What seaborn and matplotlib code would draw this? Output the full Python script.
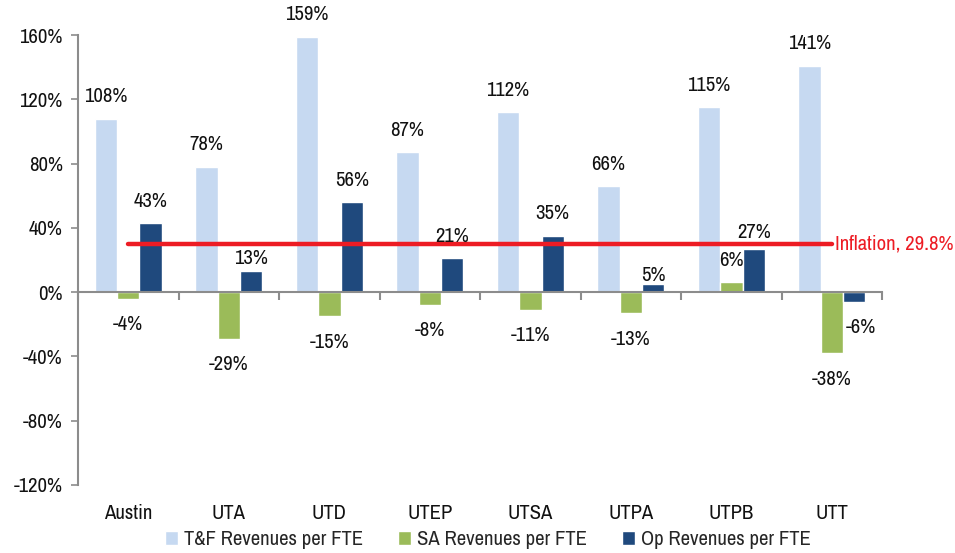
import numpy as np
import pandas as pd
import matplotlib
matplotlib.use("Agg")
import matplotlib.pyplot as plt
from matplotlib import font_manager as fm
import seaborn as sns

categories = ["Austin", "UTA", "UTD", "UTEP", "UTSA", "UTPA", "UTPB", "UTT"]
series_names = ["T&F Revenues per FTE", "SA Revenues per FTE", "Op Revenues per FTE"]
tf_values = [108, 78, 159, 87, 112, 66, 115, 141]
sa_values = [-4, -29, -15, -8, -11, -13, 6, -38]
op_values = [43, 13, 56, 21, 35, 5, 27, -6]
inflation = 29.8
y_ticks = [-120, -80, -40, 0, 40, 80, 120, 160]

colors = ["#C6D9F1", "#9BBB59", "#1F497D"]
red = "#ED1C24"
gray = "#8C8C8C"

sns.set_theme(style="white")


def pick_font(cands):
    for c in cands:
        try:
            fm.findfont(fm.FontProperties(family=c), fallback_to_default=False)
            return c
        except Exception:
            pass
    return "DejaVu Sans"


font = pick_font(["Liberation Sans Narrow", "Arial Narrow", "Archivo Narrow", "PT Sans Narrow",
                  "Roboto Condensed", "Encode Sans Condensed", "Open Sans Condensed",
                  "IBM Plex Sans Condensed", "Liberation Sans"])
plt.rcParams["font.family"] = [font, "DejaVu Sans"]

fig = plt.figure(figsize=(9.55, 5.53), dpi=100)

# choose font size so the legend label width matches the reference (~182 px)
renderer = fig.canvas.get_renderer()
probe = fig.text(0, 0, series_names[0], fontsize=10)
w10 = probe.get_window_extent(renderer=renderer).width
probe.remove()
FS = round(10 * 180 / w10, 1)
FS = min(FS, 15.5)

df = pd.DataFrame({
    "cat": categories * 3,
    "series": sum([[s] * len(categories) for s in series_names], []),
    "value": tf_values + sa_values + op_values,
})

ax = fig.add_axes([0.0817, 0.123, 0.8419, 0.8137])

sns.barplot(data=df, x="cat", y="value", hue="series", order=categories,
            hue_order=series_names, palette=colors, width=0.67, gap=0,
            saturation=1, errorbar=None, ax=ax, legend=True)

ax.set_xlim(-0.5, 7.5)
ax.set_ylim(-120, 160)
ax.set_yticks(y_ticks)
ax.set_yticklabels([f"{v}%" for v in y_ticks], fontsize=FS)
ax.set_xlabel("")
ax.set_ylabel("")

for s in ["top", "right"]:
    ax.spines[s].set_visible(False)
ax.spines["left"].set_color(gray)
ax.spines["left"].set_linewidth(1.5)
ax.spines["bottom"].set_position(("data", 0))
ax.spines["bottom"].set_color(gray)
ax.spines["bottom"].set_linewidth(1.5)
ax.tick_params(axis="y", which="major", direction="out", length=5, width=1.2, color=gray, pad=6,
               left=True, labelcolor="#111111")
ax.set_xticks(range(len(categories)))
ax.set_xticklabels([])
ax.tick_params(axis="x", which="major", length=0)
ax.set_xticks(np.arange(-0.5, len(categories), 1), minor=True)
ax.tick_params(axis="x", which="minor", direction="out", length=6, width=1.5, color=gray, bottom=True)

sec = ax.secondary_xaxis("bottom")
sec.set_xticks(range(len(categories)), labels=categories, fontsize=FS)
sec.tick_params(length=0, pad=14, labelcolor="#111111")
sec.spines["bottom"].set_visible(False)

# inflation line
ax.plot([0, len(categories) - 1], [inflation, inflation], color=red, lw=3.2, solid_capstyle="round", zorder=5)
ax.annotate(f"Inflation, {inflation}%", xy=(len(categories) - 1, inflation), xytext=(2, 0),
            textcoords="offset points", va="center", ha="left", color=red, fontsize=FS, zorder=6)

# value labels
overrides = {(2, 1): 13, (2, 5): 9, (2, 6): 16}
special_x = {(2, 7): 5}
all_vals = [tf_values, sa_values, op_values]
for si, cont in enumerate(ax.containers):
    for ci, patch in enumerate(cont.patches):
        v = all_vals[si][ci]
        xc = patch.get_x() + patch.get_width() / 2
        off = overrides.get((si, ci), 22) if v >= 0 else -26
        dx = special_x.get((si, ci), 0)
        ax.annotate(f"{v}%", xy=(xc, v), xytext=(dx, off * 0.72), textcoords="offset points",
                    ha="center", va="center", fontsize=FS, color="#111111", zorder=7)

# legend
handles, labels = ax.get_legend_handles_labels()
ax.get_legend().remove()
fig.legend(handles, labels, loc="center", bbox_to_anchor=(0.511, 0.024), ncol=3,
           frameon=False, fontsize=FS, handlelength=0.6, handleheight=0.6,
           handletextpad=0.3, columnspacing=1.7, borderpad=0)

fig.savefig("out.png", dpi=100)
